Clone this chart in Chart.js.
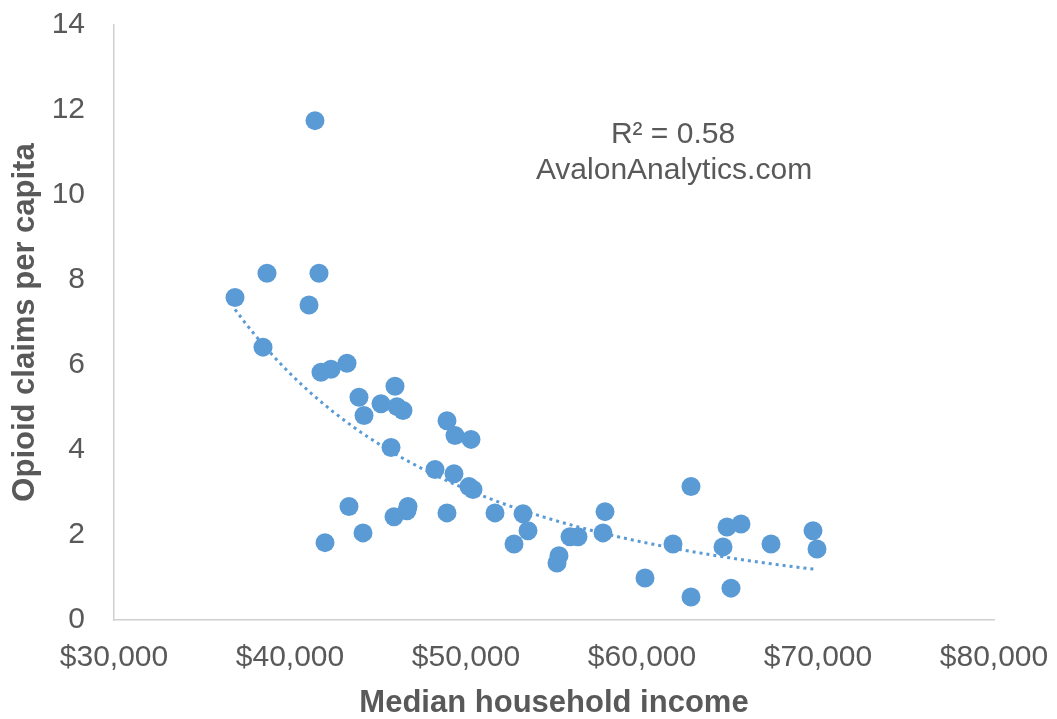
<!DOCTYPE html>
<html>
<head>
<meta charset="utf-8">
<script src="https://cdn.jsdelivr.net/npm/chart.js@4/dist/chart.umd.min.js"></script>
<style>
  body { margin: 0; background: #fff; }
  #wrap { width: 1057px; height: 719px; }
</style>
</head>
<body>
<div id="wrap"><canvas id="grafico"></canvas></div>
<script>
// median household income per state ($)
var incomes = [36875, 38466, 38693, 41080, 41420, 41648, 41761, 42330, 43239, 43920,
  44205, 45170, 45966, 46080, 46420, 45739, 48920, 49375, 50284, 48239,
  49318, 50170, 50398, 43352, 45909, 46705, 46648, 48920, 51648, 53239,
  53523, 52727, 44148, 41989, 55284, 55170, 55909, 56364, 57784, 57898,
  60170, 61761, 62784, 62784, 64602, 64830, 65057, 65625, 67330, 69716, 69943];
// opioid claims per capita
var claims = [7.59, 6.42, 8.16, 7.41, 11.75, 8.16, 5.83, 5.90, 6.04, 5.24,
  4.81, 5.09, 5.50, 5.02, 4.93, 4.06, 4.69, 4.34, 4.25, 3.54,
  3.44, 3.14, 3.07, 2.67, 2.43, 2.67, 2.57, 2.52, 2.52, 2.50,
  2.10, 1.79, 2.05, 1.82, 1.51, 1.34, 1.96, 1.96, 2.05, 2.55,
  0.99, 1.79, 3.14, 0.54, 1.72, 2.19, 0.75, 2.26, 1.79, 2.10, 1.67];
var xTicks = [30000, 40000, 50000, 60000, 70000, 80000];
var yTicks = [0, 2, 4, 6, 8, 10, 12, 14];

var azul = '#5b9bd5';
var cinza = '#595959';
var fonte = '"Liberation Sans", Arial, sans-serif';

// power trendline (least squares on ln x, ln y), like the spreadsheet one
function LinhaTendencia(xs, ys) {
  var n = xs.length, sx = 0, sy = 0, sxx = 0, sxy = 0;
  for (var i = 0; i < n; i++) {
    var lx = Math.log(xs[i]), ly = Math.log(ys[i]);
    sx += lx; sy += ly; sxx += lx * lx; sxy += lx * ly;
  }
  var b = (n * sxy - sx * sy) / (n * sxx - sx * sx);
  var a = Math.exp((sy - b * sx) / n);
  var xmin = Math.min.apply(null, xs), xmax = Math.max.apply(null, xs);
  var pts = [];
  for (var k = 0; k <= 60; k++) {
    var x = xmin + (xmax - xmin) * k / 60;
    pts.push({ x: x, y: a * Math.pow(x, b) });
  }
  return pts;
}

var pontos = incomes.map(function (v, i) { return { x: v, y: claims[i] }; });

var rotulo = {
  id: 'rotulo',
  afterDraw: function (chart) {
    var ctx = chart.ctx;
    ctx.save();
    ctx.fillStyle = cinza;
    ctx.font = '30px ' + fonte;
    ctx.textAlign = 'center';
    ctx.textBaseline = 'middle';
    ctx.fillText('R\u00b2 = 0.58', 673, 135);
    ctx.fillText('AvalonAnalytics.com', 674, 171);
    ctx.restore();
  }
};

var ctx = document.getElementById('grafico').getContext('2d');
var grafico = new Chart(ctx, {
  type: 'scatter',
  data: {
    datasets: [
      {
        label: 'Tendencia',
        type: 'line',
        data: LinhaTendencia(incomes, claims),
        borderColor: azul,
        borderWidth: 3,
        borderDash: [3, 4],
        pointRadius: 0,
        fill: false,
        order: 2
      },
      {
        label: 'Estados',
        data: pontos,
        backgroundColor: azul,
        borderWidth: 0,
        pointRadius: 9.5,
        pointHoverRadius: 9.5,
        order: 1
      }
    ]
  },
  options: {
    responsive: true,
    maintainAspectRatio: false,
    animation: false,
    layout: { padding: { top: 25, right: 63, bottom: 0, left: 0 } },
    plugins: { legend: { display: false }, tooltip: { enabled: false } },
    scales: {
      x: {
        type: 'linear',
        min: 30000,
        max: 80000,
        afterBuildTicks: function (s) { s.ticks = xTicks.map(function (v) { return { value: v }; }); },
        afterFit: function (s) {
          s.height = 99;
          s.paddingLeft = 0; s.paddingRight = 0;
        },
        grid: { drawOnChartArea: false, drawTicks: false },
        border: { display: true, color: '#d0d0d0', width: 1.5 },
        ticks: {
          color: cinza,
          padding: 20,
          maxRotation: 0,
          font: { family: fonte, size: 30 },
          callback: function (v) { return '$' + v.toLocaleString('en-US'); }
        },
        title: {
          display: true,
          text: 'Median household income',
          color: cinza,
          padding: { top: 0, bottom: 0 },
          font: { family: fonte, size: 31, weight: 'bold', lineHeight: 1 }
        }
      },
      y: {
        min: 0,
        max: 14,
        afterBuildTicks: function (s) { s.ticks = yTicks.map(function (v) { return { value: v }; }); },
        afterFit: function (s) {
          s.width = 114;
          s.paddingTop = 0; s.paddingBottom = 0;
        },
        grid: { drawOnChartArea: false, drawTicks: false },
        border: { display: true, color: '#d0d0d0', width: 1.5 },
        ticks: {
          color: cinza,
          padding: 29,
          font: { family: fonte, size: 30 }
        },
        title: {
          display: true,
          text: 'Opioid claims per capita',
          color: cinza,
          padding: { top: 10, bottom: 0 },
          font: { family: fonte, size: 31, weight: 'bold', lineHeight: 1 }
        }
      }
    }
  },
  plugins: [rotulo]
});
</script>
</body>
</html>
